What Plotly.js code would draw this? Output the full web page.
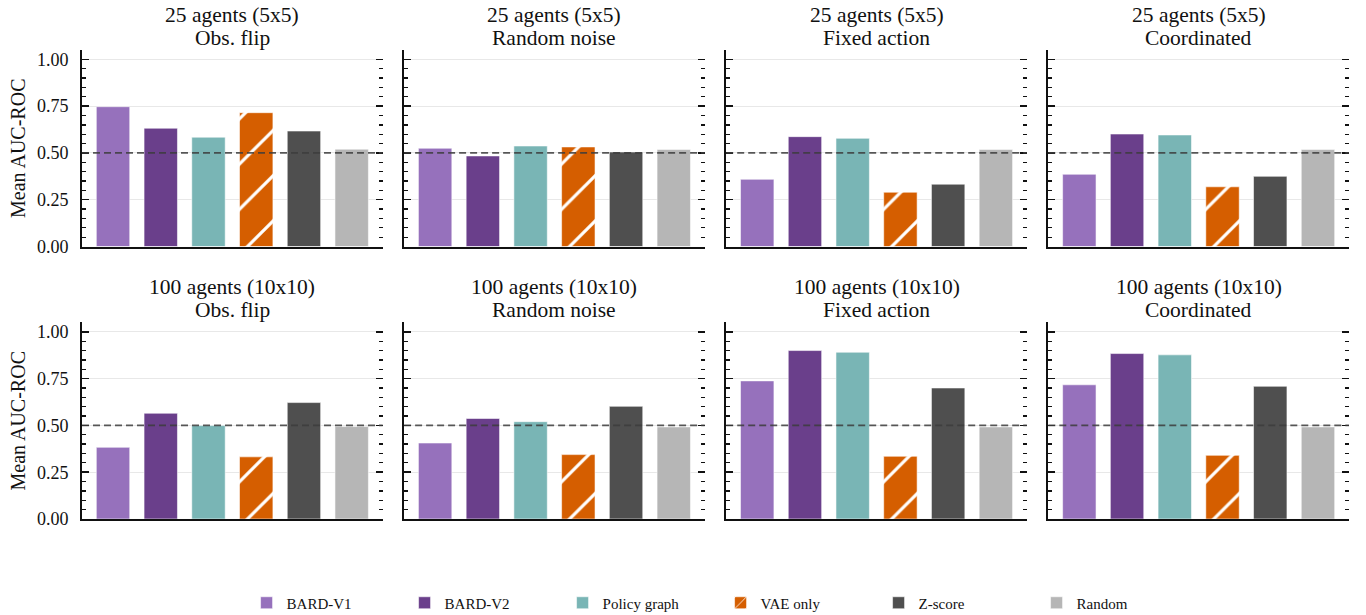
<!DOCTYPE html>
<html>
<head>
<meta charset="utf-8">
<script src="https://cdn.plot.ly/plotly-3.0.1.min.js"></script>
<style>html,body{margin:0;padding:0;background:#fff;}#chart{width:1366px;height:615px;}</style>
</head>
<body>
<div id="chart"></div>
<script>
// ---- data ----
const methods = ['BARD-V1', 'BARD-V2', 'Policy graph', 'VAE only', 'Z-score', 'Random'];
const rowTitles = ['25 agents (5x5)', '100 agents (10x10)'];
const attackTitles = ['Obs. flip', 'Random noise', 'Fixed action', 'Coordinated'];
const yTicks = [0, 0.25, 0.5, 0.75, 1.0];
const chanceLevel = 0.5;

// 25 agents (5x5)
const small_obsFlip      = [0.747, 0.632, 0.584, 0.715, 0.617, 0.520];
const small_randomNoise  = [0.525, 0.484, 0.537, 0.532, 0.505, 0.518];
const small_fixedAction  = [0.359, 0.587, 0.578, 0.290, 0.333, 0.518];
const small_coordinated  = [0.386, 0.601, 0.596, 0.319, 0.375, 0.518];
// 100 agents (10x10)
const large_obsFlip      = [0.383, 0.565, 0.499, 0.332, 0.622, 0.494];
const large_randomNoise  = [0.406, 0.537, 0.520, 0.344, 0.602, 0.492];
const large_fixedAction  = [0.738, 0.900, 0.891, 0.335, 0.700, 0.492];
const large_coordinated  = [0.717, 0.884, 0.877, 0.340, 0.709, 0.492];

const panels = [
  [small_obsFlip, small_randomNoise, small_fixedAction, small_coordinated],
  [large_obsFlip, large_randomNoise, large_fixedAction, large_coordinated]
];

// ---- styles ----
const colors = ['#9671bc', '#6a3f8b', '#79b5b5', '#d55e00', '#4f4f4f', '#b6b6b6'];
const FONT = '"Liberation Serif", "Times New Roman", "DejaVu Serif", serif';

const W = 1366, H = 615;
const L = 82, R = 17, T = 50, B = 96;
const plotW = W - L - R, plotH = H - T - B;
const panelW = 300.7, gapX = (plotW - 4 * panelW) / 3;
const rowDomains = [[0.581, 1.0], [0.0, 0.419]];

const traces = [];
const layout = {
  width: W, height: H,
  margin: {l: L, r: R, t: T, b: B, pad: 0, autoexpand: false},
  paper_bgcolor: '#ffffff', plot_bgcolor: 'rgba(0,0,0,0)',
  font: {family: FONT, size: 18, color: '#111'},
  barmode: 'overlay',
  showlegend: true,
  legend: {
    orientation: 'h', x: 0.504, xanchor: 'center',
    yref: 'container', y: 0.0195, yanchor: 'middle',
    font: {family: FONT, size: 15, color: '#111'},
    entrywidth: 113, entrywidthmode: 'pixels', traceorder: 'normal',
    bgcolor: 'rgba(0,0,0,0)'
  },
  shapes: [], annotations: []
};

for (let r = 0; r < 2; r++) {
  for (let c = 0; c < 4; c++) {
    const p = r * 4 + c;
    const xid = p === 0 ? 'x' : 'x' + (p + 1);
    const yid = p === 0 ? 'y' : 'y' + (p + 1);
    const yRightId = 'y' + (p + 9);
    const x0 = (c * (panelW + gapX)) / plotW;
    const x1 = (c * (panelW + gapX) + panelW) / plotW;
    const vals = panels[r][c];

    methods.forEach((m, i) => {
      const t = {
        type: 'bar', x: [m], y: [vals[i]], name: m,
        xaxis: xid, yaxis: yid, width: 0.7,
        legendgroup: m, showlegend: p === 0,
        marker: {color: colors[i], line: {color: 'rgba(255,255,255,0.55)', width: 1}},
        hoverinfo: 'x+y'
      };
      if (m === 'VAE only') {
        t.marker.pattern = {shape: '/', fgcolor: '#ffffff', bgcolor: colors[i], size: 32, solidity: 0.1, fillmode: 'replace'};
      }
      traces.push(t);
    });

    const xKey = p === 0 ? 'xaxis' : 'xaxis' + (p + 1);
    const yKey = p === 0 ? 'yaxis' : 'yaxis' + (p + 1);
    layout[xKey] = {
      domain: [x0, x1], anchor: yid, type: 'category',
      categoryorder: 'array', categoryarray: methods,
      range: [-0.65, 5.65], fixedrange: true,
      showticklabels: false, ticks: '', showgrid: false, zeroline: false,
      showline: true, linecolor: '#111', linewidth: 2
    };
    layout[yKey] = {
      domain: rowDomains[r], anchor: xid, range: [0, 1.05], fixedrange: true,
      tickvals: yTicks, tickformat: '.2f', showticklabels: c === 0,
      ticks: 'inside', ticklen: 7, tickwidth: 1.5, tickcolor: '#111',
      ticklabelstandoff: 8,
      minor: {dtick: 0.05, tick0: 0, ticks: 'inside', ticklen: 4, tickwidth: 1.3, tickcolor: '#111', showgrid: false},
      showgrid: true, gridcolor: '#e8e8e8', gridwidth: 1, zeroline: false,
      showline: true, linecolor: '#111', linewidth: 2,
      tickfont: {family: FONT, size: 18, color: '#111'}
    };
    if (c === 0) {
      layout[yKey].title = {text: 'Mean AUC-ROC', font: {family: FONT, size: 20, color: '#111'}, standoff: 6};
    }
    layout['yaxis' + (p + 9)] = {
      overlaying: yid, anchor: xid, side: 'right', range: [0, 1.05], fixedrange: true,
      tickvals: yTicks, showticklabels: false,
      ticks: 'inside', ticklen: 7, tickwidth: 1.5, tickcolor: '#111',
      minor: {dtick: 0.05, tick0: 0, ticks: 'inside', ticklen: 4, tickwidth: 1.3, tickcolor: '#111', showgrid: false},
      showgrid: false, zeroline: false, showline: false
    };
    // invisible anchor trace for the right axis so it renders
    traces.push({type: 'scatter', x: [methods[0]], y: [0], xaxis: xid, yaxis: yRightId,
      mode: 'markers', marker: {opacity: 0}, showlegend: false, hoverinfo: 'skip'});

    // chance level dashed line
    layout.shapes.push({
      type: 'line', xref: xid + ' domain', yref: yid, x0: 0, x1: 1, y0: chanceLevel, y1: chanceLevel,
      line: {color: 'rgba(60,60,60,0.85)', width: 1.8, dash: '7px,4px'}, layer: 'above'
    });

    // panel title, two lines
    const xc = (x0 + x1) / 2;
    layout.annotations.push({
      text: rowTitles[r], xref: 'paper', yref: 'paper', x: xc, y: rowDomains[r][1],
      xanchor: 'center', yanchor: 'middle', yshift: 35, showarrow: false,
      font: {family: FONT, size: 21.5, color: '#111'}
    });
    layout.annotations.push({
      text: attackTitles[c], xref: 'paper', yref: 'paper', x: xc, y: rowDomains[r][1],
      xanchor: 'center', yanchor: 'middle', yshift: 12, showarrow: false,
      font: {family: FONT, size: 21.5, color: '#111'}
    });
  }
}

Plotly.newPlot('chart', traces, layout, {displayModeBar: false, staticPlot: true});
</script>
</body>
</html>
